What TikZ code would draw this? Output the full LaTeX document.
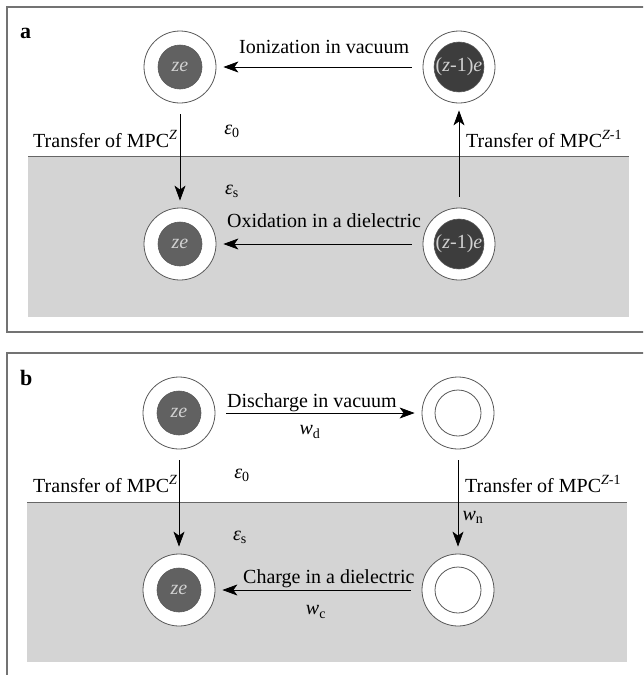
\documentclass[tikz,border=0pt]{standalone}
\usepackage{fontspec}
\setmainfont{Liberation Serif}
\usetikzlibrary{arrows.meta}
\begin{document}
\begin{tikzpicture}[x=1pt,y=-1pt,
  every node/.style={font=\fontsize{20}{24}\selectfont, inner sep=0pt},
  outerc/.style={circle, draw=black!65, line width=0.8pt, fill=white, minimum size=72pt},
  innerdisk/.style={circle, draw=black!65, line width=0.6pt, fill=#1, minimum size=44pt, text=black!18, font=\fontsize{20}{24}\selectfont\itshape},
  innerring/.style={circle, draw=black!65, line width=0.8pt, fill=white, minimum size=46pt},
  arr/.style={-{Stealth[length=15pt,width=11pt,inset=4pt]}, line width=0.7pt, shorten >=7pt, shorten <=11pt},
  frame/.style={draw=black!55, line width=1.2pt},
  medium/.style={fill=black!17},
  interface/.style={draw=black!60, line width=0.8pt},
  lbl/.style={anchor=base west},
  panel/.style={anchor=base west, font=\fontsize{22}{26}\selectfont\bfseries},
  sym/.style={font=\fontsize{20}{24}\selectfont\itshape},
]
\useasboundingbox (0,0) rectangle (643,675);
\clip (0,0) rectangle (643,675);
% ---------------- panel a ----------------
\draw[frame] (7,7) rectangle (652,332);
\fill[medium] (28,156) rectangle (629,317);
\draw[interface] (28,156) -- (629,156);
\node[panel] (la) at (20,38) {a};
\node[outerc] (a1) at (180,67) {};
\node[innerdisk=black!62] (a1i) at (a1) {ze};
\node[outerc] (a2) at (459,67) {};
\node[innerdisk=black!76] (a2i) at (a2) {{\upshape(}z{\upshape -1)}e};
\node[outerc] (a3) at (180,244) {};
\node[innerdisk=black!62] (a3i) at (a3) {ze};
\node[outerc] (a4) at (459,244) {};
\node[innerdisk=black!76] (a4i) at (a4) {{\upshape(}z{\upshape -1)}e};
\draw[arr] (a2) -- (a1);
\draw[arr] (a1) -- (a3);
\draw[arr] (a4) -- (a2);
\draw[arr] (a4) -- (a3);
\node[lbl] (ta1) at (239,53) {Ionization in vacuum};
\node[lbl] (ta2) at (227,227) {Oxidation in a dielectric};
\node[lbl] (ta3) at (33,147) {Transfer of MPC\textsuperscript{\itshape Z}};
\node[lbl] (ta4) at (466,147) {Transfer of MPC\textsuperscript{\itshape Z\upshape -1}};
\node[sym] (ea0) at (232,131) {ε\textsubscript{\upshape 0}};
\node[sym] (eas) at (232,191) {ε\textsubscript{\upshape s}};
% ---------------- panel b ----------------
\draw[frame] (7,353) rectangle (652,690);
\fill[medium] (27,502) rectangle (627,662);
\draw[interface] (27,502) -- (627,502);
\node[panel] (lb) at (20,385) {b};
\node[outerc] (b1) at (179,413) {};
\node[innerdisk=black!62] (b1i) at (b1) {ze};
\node[outerc] (b2) at (458,413) {};
\node[innerring] (b2i) at (b2) {};
\node[outerc] (b3) at (179,590) {};
\node[innerdisk=black!62] (b3i) at (b3) {ze};
\node[outerc] (b4) at (458,590) {};
\node[innerring] (b4i) at (b4) {};
\draw[arr] (b1) -- (b2);
\draw[arr] (b1) -- (b3);
\draw[arr] (b2) -- (b4);
\draw[arr] (b4) -- (b3);
\node[lbl] (tb1) at (227,407) {Discharge in vacuum};
\node[lbl] (tb2) at (243,583) {Charge in a dielectric};
\node[lbl] (tb3) at (33,492) {Transfer of MPC\textsuperscript{\itshape Z}};
\node[lbl] (tb4) at (465,492) {Transfer of MPC\textsuperscript{\itshape Z\upshape -1}};
\node[sym] (wd) at (310,432) {w\textsubscript{\upshape d}};
\node[sym] (wn) at (473,517) {w\textsubscript{\upshape n}};
\node[sym] (wc) at (316,612) {w\textsubscript{\upshape c}};
\node[sym] (eb0) at (242,475) {ε\textsubscript{\upshape 0}};
\node[sym] (ebs) at (240,537) {ε\textsubscript{\upshape s}};
\end{tikzpicture}
\end{document}
